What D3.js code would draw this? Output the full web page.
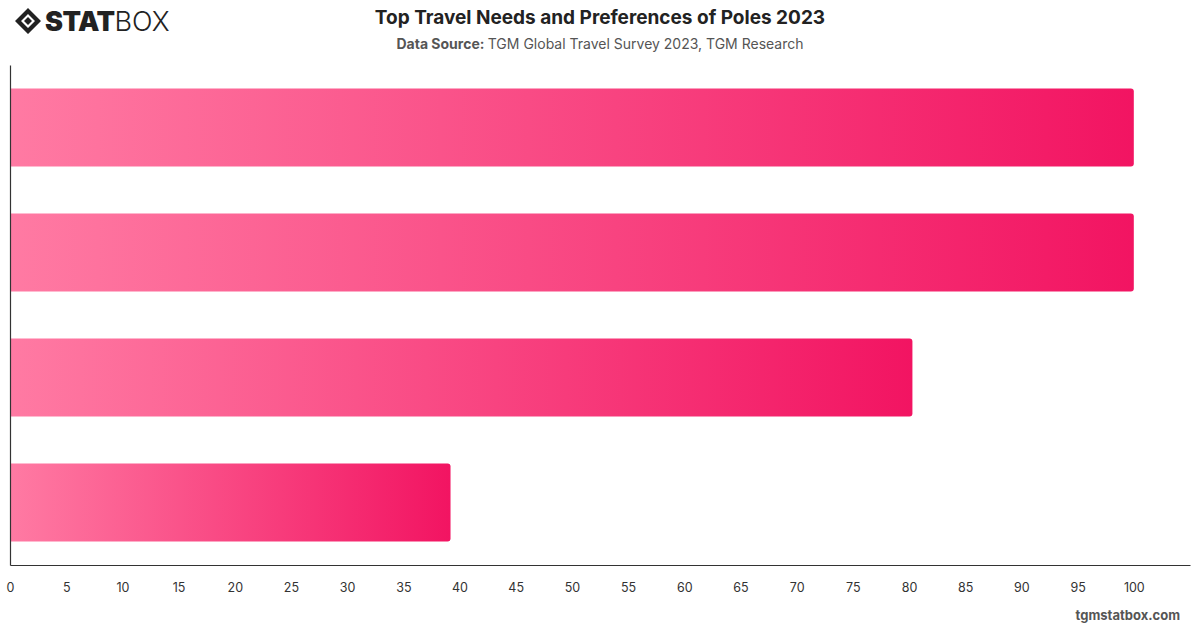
<!DOCTYPE html>
<html>
<head>
<meta charset="utf-8">
<script src="https://cdn.jsdelivr.net/npm/d3@7"></script>
<style>
  body { margin: 0; background: #fff; }
  svg { display: block; font-family: Inter, "Noto Sans", sans-serif; }
</style>
</head>
<body>
<div id="chart"></div>
<script>
// values (no category labels are shown on it)
var categories = ["Need 1", "Need 2", "Need 3", "Need 4"];
var values = [100, 100, 80.3, 39.2];
var tickValues = d3.range(0, 105, 5);

var width = 1200, height = 628;
var margin = {top: 65, right: 10, bottom: 63, left: 10};

var svg = d3.select("#chart").append("svg")
  .attr("width", width)
  .attr("height", height);

var defs = svg.append("defs");
var grad = defs.append("linearGradient")
  .attr("id", "barGrad")
  .attr("x1", "0%").attr("x2", "100%")
  .attr("y1", "0%").attr("y2", "0%");
grad.append("stop").attr("offset", "0%").attr("stop-color", "#ff7aa3");
grad.append("stop").attr("offset", "100%").attr("stop-color", "#f21462");

// header
svg.append("text")
  .attr("x", 600).attr("y", 24)
  .attr("text-anchor", "middle")
  .attr("font-size", 19).attr("font-weight", 700)
  .attr("fill", "#222")
  .text("Top Travel Needs and Preferences of Poles 2023");

var sub = svg.append("text")
  .attr("x", 600).attr("y", 49)
  .attr("text-anchor", "middle")
  .attr("font-size", 14).attr("fill", "#555");
sub.append("tspan").attr("font-weight", 700).text("Data Source: ");
sub.append("tspan").text("TGM Global Travel Survey 2023, TGM Research");

// logo
var logo = svg.append("g").attr("transform", "translate(15,8)");
logo.append("path")
  .attr("d", "M13,0 L26,13 L13,26 L0,13 Z M13,6 L20,13 L13,20 L6,13 Z")
  .attr("fill", "#222").attr("fill-rule", "evenodd");
logo.append("path").attr("d", "M13,9 L17,13 L13,17 L9,13 Z").attr("fill", "#222");
var lt = logo.append("text").attr("x", 30).attr("y", 23)
  .attr("font-size", 27).attr("fill", "#222");
lt.append("tspan").attr("font-weight", 900).attr("letter-spacing", "-0.5").text("STAT");
lt.append("tspan").attr("font-weight", 300).text("BOX");

// scales
var x = d3.scaleLinear()
  .domain([0, 105])
  .range([margin.left, width - margin.right]);

var y = d3.scaleBand()
  .domain(categories)
  .range([margin.top, height - margin.bottom])
  .paddingInner(0.376)
  .paddingOuter(0.188);

var data = categories.map(function(c, i) { return {name: c, value: values[i]}; });

// bars with rounded right end
function barPath(d) {
  var x0 = x(0) + 0.5, x1 = x(d.value), y0 = y(d.name), h = y.bandwidth(), r = 3;
  return "M" + x0 + "," + y0 +
    "H" + (x1 - r) + "Q" + x1 + "," + y0 + " " + x1 + "," + (y0 + r) +
    "V" + (y0 + h - r) + "Q" + x1 + "," + (y0 + h) + " " + (x1 - r) + "," + (y0 + h) +
    "H" + x0 + "Z";
}

svg.selectAll(".bar")
  .data(data)
  .enter()
  .append("path")
    .attr("class", "bar")
    .attr("d", barPath)
    .attr("fill", "url(#barGrad)");

// axes
var xAxis = svg.append("g")
  .attr("transform", "translate(0," + (height - margin.bottom) + ")")
  .call(d3.axisBottom(x).tickValues(tickValues).tickSize(0).tickPadding(18));
xAxis.select(".domain").attr("stroke", "#333").attr("stroke-width", 1.2);
xAxis.selectAll("text")
  .attr("font-size", 12.5).attr("fill", "#333")
  .attr("font-family", "Inter, 'Noto Sans', sans-serif");

var yAxis = svg.append("g")
  .attr("transform", "translate(" + margin.left + ",0)")
  .call(d3.axisLeft(y).tickSize(0).tickFormat(""));
yAxis.select(".domain").attr("stroke", "#333").attr("stroke-width", 1.2);

// footer
svg.append("text")
  .attr("x", 1180).attr("y", 620)
  .attr("text-anchor", "end")
  .attr("font-size", 13).attr("font-weight", 700)
  .attr("fill", "#555")
  .text("tgmstatbox.com");
</script>
</body>
</html>
